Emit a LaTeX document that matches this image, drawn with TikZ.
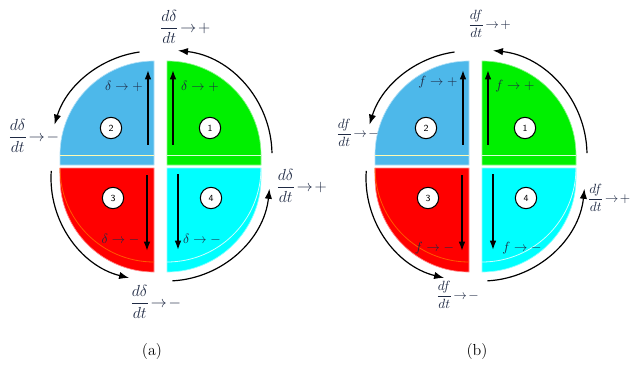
\documentclass[tikz,border=0pt]{standalone}
\usepackage{amsmath}
\usetikzlibrary{arrows.meta,calc}
\definecolor{Ink}{HTML}{1F2A44}
\definecolor{SkyQ}{HTML}{4DB8EA}
\definecolor{GreenQ}{HTML}{00F000}
\definecolor{RedQ}{HTML}{FF0000}
\definecolor{CyanQ}{HTML}{00FFFF}
\tikzset{
 quad/.style={draw=#1!45!white,line width=.5pt,fill=#1},
 seam/.style={draw=#1,line width=.6pt},
 flow/.style={-{Latex[length=7pt,width=5pt]},line width=1.1pt},
 turn/.style={-{Latex[length=7.5pt,width=5.5pt]},line width=.9pt},
 num/.style={circle,draw,thick,fill=white,minimum size=16pt,inner sep=0pt,font=\sffamily\scriptsize},
 tag/.style={font=\fontsize{11.5}{14}\selectfont,text=Ink,inner sep=0pt,anchor=west},
 tagb/.style={tag,font=\normalsize},
 sign/.style={text=Ink,inner sep=0pt},
 panelcap/.style={font=\large,inner sep=0pt},
}
% four quadrants, inner arrows, numbers and the turning arcs; #1 = name prefix
\newcommand{\quads}[1]{%
 \filldraw[quad=GreenQ](6.5,1.5)--(100.5,1.5)--(100.5,11.5)arc[start angle=0,end angle=90,radius=94]--cycle;
 \draw[seam=white!85!GreenQ](6.5,11.5)--(100.5,11.5);
 \filldraw[quad=SkyQ](-6.5,1.5)--(-100.5,1.5)--(-100.5,11.5)arc[start angle=180,end angle=90,radius=94]--cycle;
 \draw[seam=white!70!yellow](-6.5,11.5)--(-100.5,11.5);
 \filldraw[quad=RedQ](-6.5,-1.5)--(-100.5,-1.5)--(-100.5,-11.5)arc[start angle=180,end angle=270,radius=94]--cycle;
 \draw[seam=orange!70!red](-100.5,-1.5)arc[start angle=180,end angle=270,radius=94];
 \filldraw[quad=CyanQ](6.5,-1.5)--(100.5,-1.5)--(100.5,-11.5)arc[start angle=0,end angle=-90,radius=94]--cycle;
 \draw[seam=white!80!CyanQ](100.5,-1.5)arc[start angle=0,end angle=-90,radius=94];
 \draw[flow](-12.5,21.5)--(-12.5,96.5);
 \draw[flow](12.5,21.5)--(12.5,96.5);
 \draw[flow](-13.5,-8.5)--(-13.5,-84.5);
 \draw[flow](17.5,-7.5)--(17.5,-83.5);
 \node[num](#1q1)at(49.5,38.5){1};
 \node[num](#1q2)at(-49.5,38.5){2};
 \node[num](#1q3)at(-47.5,-31.5){3};
 \node[num](#1q4)at(50.5,-31.5){4};
 \draw[turn]($(6.5,11.5)+(1:105)$)arc[start angle=1,end angle=84,radius=105];
 \draw[turn]($(-6.5,11.5)+(98:104)$)arc[start angle=98,end angle=163,radius=104];
 \draw[turn]($(-6.5,-11.5)+(176:103)$)arc[start angle=176,end angle=256,radius=103];
 \draw[turn]($(6.5,-11.5)+(273:103)$)arc[start angle=273,end angle=354,radius=103];
}
\begin{document}
\begin{tikzpicture}[x=.75pt,y=.75pt]
 \useasboundingbox(0,0)rectangle(632,372);
 \begin{scope}[shift={(160.5,205.5)}]
 \quads{a}
 \node[sign](as2)at(-36.5,80.5){$\delta\to+$};
 \node[sign](as1)at(39.5,80.5){$\delta\to+$};
 \node[sign](as3)at(-40,-72.5){$\delta\to-$};
 \node[sign](as4)at(41.5,-72.5){$\delta\to-$};
 \node[tag](atop)at(-1,139.5){$\dfrac{d\delta}{dt}\!\to\!+$};
 \node[tag](aleft)at(-152.5,30.5){$\dfrac{d\delta}{dt}\!\to\!-$};
 \node[tag](aright)at(115.5,-19.5){$\dfrac{d\delta}{dt}\!\to\!+$};
 \node[tag](abot)at(-30.5,-135.5){$\dfrac{d\delta}{dt}\!\to\!-$};
 \node[panelcap](acap)at(-8.5,-185.5){(a)};
 \end{scope}
 \begin{scope}[shift={(475.5,205.5)}]
 \quads{b}
 \node[sign](bs2)at(-37.5,84.5){$f\to+$};
 \node[sign](bs1)at(39.5,80.5){$f\to+$};
 \node[sign](bs3)at(-41,-81.5){$f\to-$};
 \node[sign](bs4)at(46.5,-81.5){$f\to-$};
 \node[tagb](btop)at(-7.5,142.5){$\dfrac{df}{dt}\!\to\!+$};
 \node[tagb](bleft)at(-139.5,33.5){$\dfrac{df}{dt}\!\to\!-$};
 \node[tagb](bright)at(112,-31.5){$\dfrac{df}{dt}\!\to\!+$};
 \node[tagb](bbot)at(-39.5,-128.5){$\dfrac{df}{dt}\!\to\!-$};
 \node[panelcap](bcap)at(1.5,-185.5){(b)};
 \end{scope}
\end{tikzpicture}
\end{document}
